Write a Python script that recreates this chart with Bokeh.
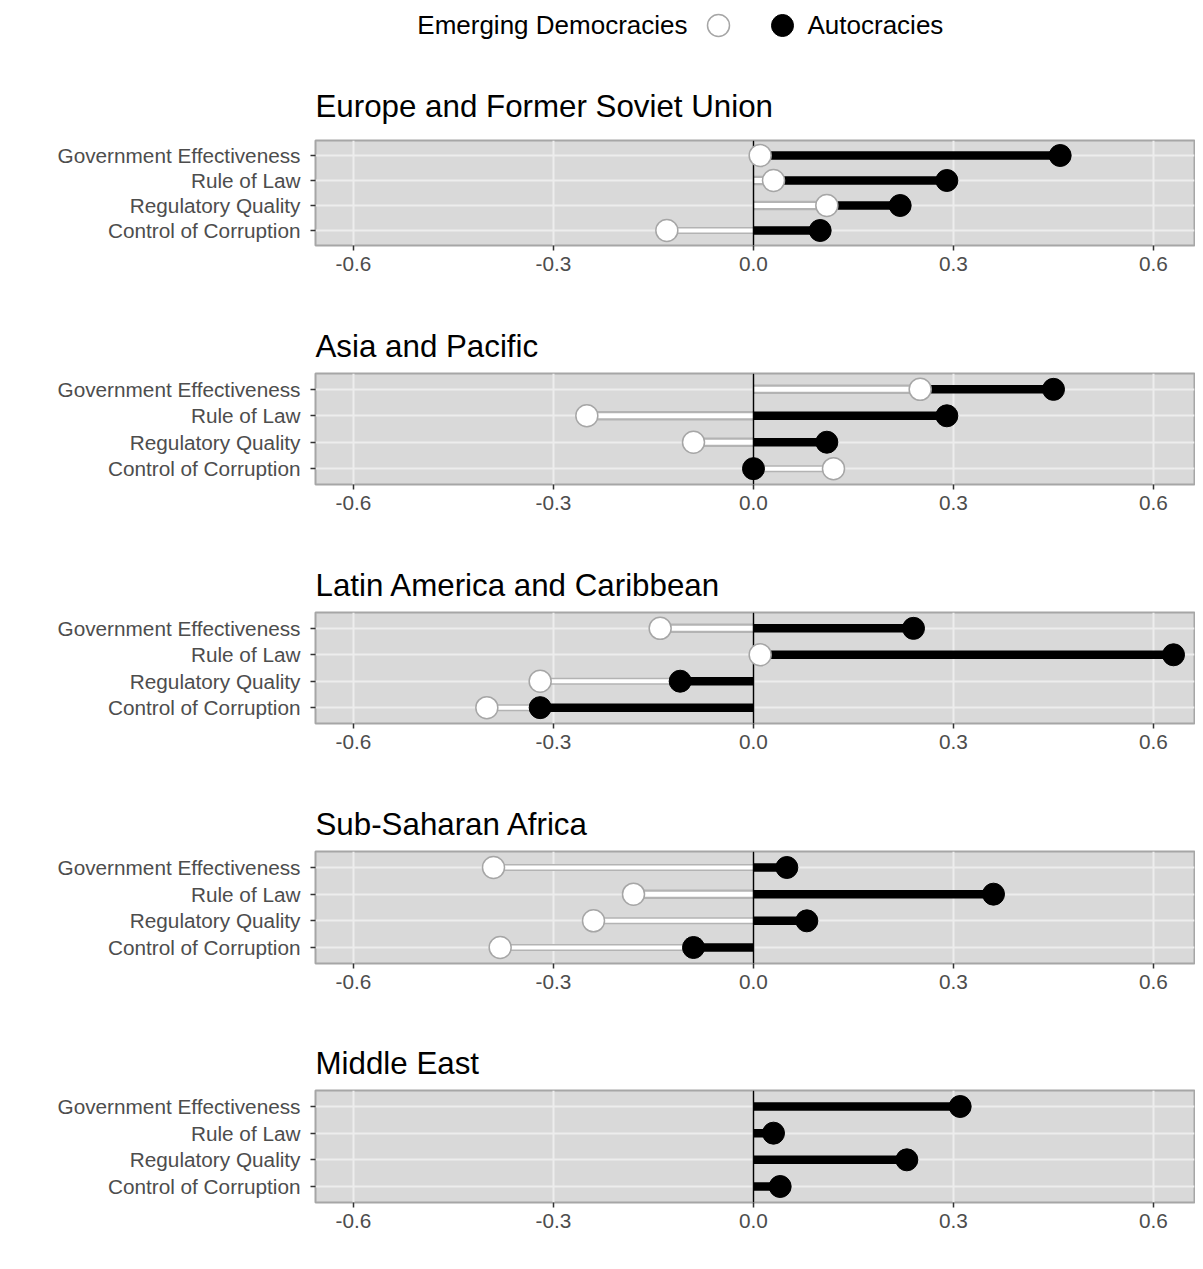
import math
from bokeh.plotting import figure
from bokeh.models import Range1d, ColumnDataSource, PrintfTickFormatter, FixedTicker
from bokeh.layouts import column
from bokeh.embed import file_html
from bokeh.resources import INLINE
from bokeh.core.properties import value

NAN = float("nan")

# ---------------- data ----------------
series = ["Emerging Democracies", "Autocracies"]
regions = ["Europe and Former Soviet Union", "Asia and Pacific",
           "Latin America and Caribbean", "Sub-Saharan Africa", "Middle East"]
indicators = ["Government Effectiveness", "Rule of Law",
              "Regulatory Quality", "Control of Corruption"]
x_ticks = [-0.6, -0.3, 0.0, 0.3, 0.6]

europe_ed = [0.01, 0.03, 0.11, -0.13]
europe_auto = [0.46, 0.29, 0.22, 0.10]
asia_ed = [0.25, -0.25, -0.09, 0.12]
asia_auto = [0.45, 0.29, 0.11, 0.00]
latam_ed = [-0.14, 0.01, -0.32, -0.40]
latam_auto = [0.24, 0.63, -0.11, -0.32]
ssa_ed = [-0.39, -0.18, -0.24, -0.38]
ssa_auto = [0.05, 0.36, 0.08, -0.09]
mideast_ed = [NAN, NAN, NAN, NAN]
mideast_auto = [0.31, 0.03, 0.23, 0.04]

ed_by_region = [europe_ed, asia_ed, latam_ed, ssa_ed, mideast_ed]
auto_by_region = [europe_auto, asia_auto, latam_auto, ssa_auto, mideast_auto]

# ---------------- style / layout ----------------
FONT = "Liberation Sans"
LEFT = 315
RIGHT = 1
W = 1195
# (border_top, frame_height, border_bottom, title_standoff)
panel_geom = [
    (80, 105, 55, 33),
    (73, 111, 56, 20),
    (72, 111, 57, 20),
    (71, 112, 57, 20),
    (70, 112, 58, 20),
]
BG = "#D9D9D9"
GRID = "#EDEDED"
BORDER = "#A6A6A6"
ED_OUT = "#B3B3B3"
PT_SIZE = 22
BASE = 0.0
AXIS_FS = "20.75px"


def legend_fig():
    p = figure(width=W, height=60, x_range=Range1d(LEFT, W - RIGHT), y_range=Range1d(60, 0),
               toolbar_location=None, output_backend="svg",
               min_border_left=LEFT, min_border_right=RIGHT, min_border_top=0, min_border_bottom=0)
    p.axis.visible = False
    p.grid.visible = False
    p.outline_line_color = None
    p.background_fill_color = "white"
    p.text(x=[687], y=[24], text=[series[0]], text_align="right", text_baseline="middle",
           text_font=value(FONT), text_font_size="26px", text_color="black")
    p.scatter(x=[718], y=[25], size=PT_SIZE, fill_color="white", line_color=BORDER, line_width=1.5)
    p.scatter(x=[782], y=[25], size=PT_SIZE, fill_color="black", line_color="black", line_width=1)
    p.text(x=[807], y=[24], text=[series[1]], text_align="left", text_baseline="middle",
           text_font=value(FONT), text_font_size="26px", text_color="black")
    return p


def panel(title, ed_vals, au_vals, geom):
    bt, fh, bb, standoff = geom
    n = len(indicators)
    ys = [n - i for i in range(n)]
    p = figure(width=W, height=bt + fh + bb,
               x_range=Range1d(-0.657, 0.6615), y_range=Range1d(0.4, n + 0.6),
               toolbar_location=None, output_backend="svg",
               min_border_left=LEFT, min_border_right=RIGHT,
               min_border_top=bt, min_border_bottom=bb, title=title)
    p.title.align = "left"
    p.title.text_font = FONT
    p.title.text_font_size = "31.3px"
    p.title.text_font_style = "normal"
    p.title.text_color = "black"
    p.title.standoff = standoff
    p.background_fill_color = BG
    p.border_fill_color = "white"
    p.outline_line_color = BORDER
    p.outline_line_width = 2

    p.xaxis.ticker = FixedTicker(ticks=x_ticks)
    p.xaxis.formatter = PrintfTickFormatter(format="%.1f")
    p.yaxis.ticker = FixedTicker(ticks=ys)
    p.yaxis.major_label_overrides = {y: lab for y, lab in zip(ys, indicators)}
    for ax in (p.xaxis[0], p.yaxis[0]):
        ax.axis_line_color = None
        ax.major_tick_line_color = "#333333"
        ax.major_tick_line_width = 1.5
        ax.major_tick_out = 5
        ax.major_tick_in = 0
        ax.minor_tick_line_color = None
        ax.major_label_text_font = FONT
        ax.major_label_text_font_size = AXIS_FS
        ax.major_label_text_color = "#4D4D4D"
    p.xaxis.major_label_standoff = 6
    p.yaxis.major_label_standoff = 10
    p.xgrid.ticker = FixedTicker(ticks=x_ticks)
    p.ygrid.ticker = FixedTicker(ticks=ys)
    p.grid.grid_line_color = GRID
    p.grid.grid_line_width = 2

    # longer bar drawn underneath, shorter bar on top
    ed_long, au_long, ed_short, au_short = (dict(y=[], x=[], x0=[]) for _ in range(4))
    for y, e, a in zip(ys, ed_vals, au_vals):
        has_e = e is not None and not math.isnan(e)
        if has_e and abs(e) >= abs(a):
            tgt = [(ed_long, e), (au_short, a)]
        else:
            tgt = [(au_long, a)] + ([(ed_short, e)] if has_e else [])
        for d, v in tgt:
            d["y"].append(y)
            d["x"].append(v)
            d["x0"].append(BASE)
    srcs = {k: ColumnDataSource(v) for k, v in
            dict(ed_long=ed_long, au_long=au_long, ed_short=ed_short, au_short=au_short).items()}

    def seg_ed(s, outer, inner):
        p.segment(x0="x0", y0="y", x1="x", y1="y", source=s, line_color=ED_OUT, line_width=outer)
        p.segment(x0="x0", y0="y", x1="x", y1="y", source=s, line_color="white", line_width=inner)

    def seg_au(s):
        p.segment(x0="x0", y0="y", x1="x", y1="y", source=s, line_color="black", line_width=8.5)

    seg_ed(srcs["ed_long"], 7, 4)
    seg_au(srcs["au_long"])
    seg_ed(srcs["ed_short"], 9.5, 5)
    seg_au(srcs["au_short"])

    p.vspan(x=[BASE], line_color="black", line_width=1.5)

    def pt_ed(s):
        p.scatter(x="x", y="y", source=s, size=PT_SIZE, fill_color="white",
                  line_color=BORDER, line_width=1.5)

    def pt_au(s):
        p.scatter(x="x", y="y", source=s, size=PT_SIZE, fill_color="black",
                  line_color="black", line_width=1)

    pt_ed(srcs["ed_long"])
    pt_au(srcs["au_long"])
    pt_ed(srcs["ed_short"])
    pt_au(srcs["au_short"])
    return p


figs = [legend_fig()]
for reg, ed, au, g in zip(regions, ed_by_region, auto_by_region, panel_geom):
    figs.append(panel(reg, ed, au, g))

layout = column(*figs, spacing=0)
open("out.html", "w").write(file_html(layout, INLINE))
